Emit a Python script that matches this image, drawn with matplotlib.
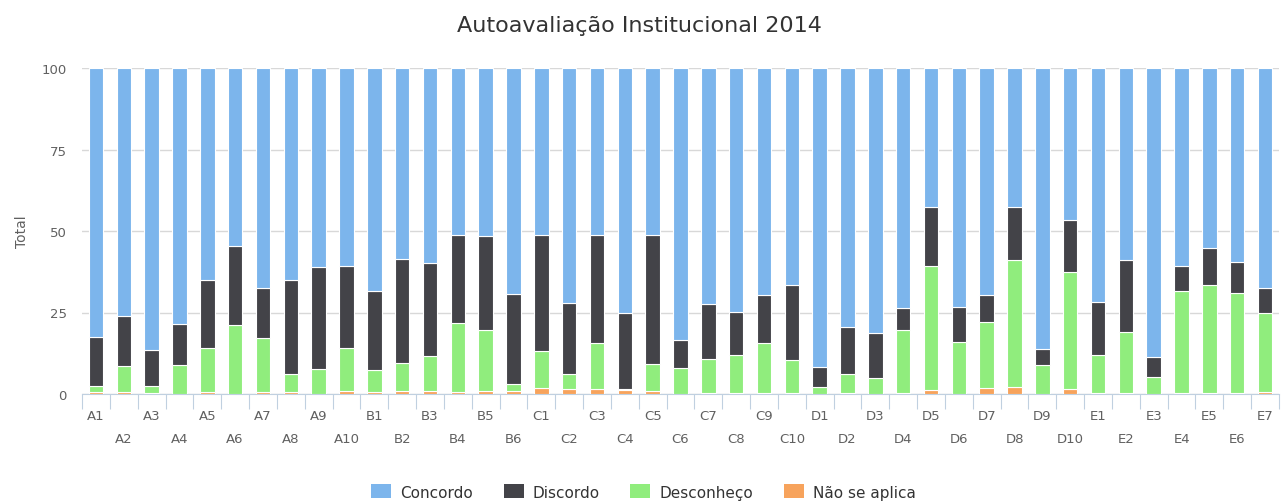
import matplotlib.pyplot as plt
from matplotlib.patches import Patch
import numpy as np

# Categories and percentage values
categories = (["A%d" % i for i in range(1, 11)] + ["B%d" % i for i in range(1, 7)]
              + ["C%d" % i for i in range(1, 11)] + ["D%d" % i for i in range(1, 11)]
              + ["E%d" % i for i in range(1, 8)])

nao_se_aplica = [0.5, 0.5, 0.2, 0.0, 0.5, 0.0, 0.5, 0.5, 0.0, 0.8,
                 0.5, 1.0, 1.0, 0.5, 0.8, 0.8,
                 1.8, 1.5, 1.5, 1.2, 0.8, 0.0, 0.4, 0.4, 0.4, 0.4,
                 0.0, 0.4, 0.0, 0.3, 1.3, 0.0, 1.7, 2.2, 0.0, 1.5,
                 0.4, 0.4, 0.0, 0.4, 0.4, 0.4, 0.5]
desconheco = [1.9, 8.0, 2.2, 8.8, 13.5, 21.1, 16.8, 5.5, 7.6, 13.2,
              6.8, 8.5, 10.6, 21.2, 18.8, 2.3,
              11.4, 4.7, 14.2, 0.2, 8.3, 7.9, 10.3, 11.6, 15.1, 9.9,
              2.3, 5.8, 5.0, 19.3, 38.1, 16.0, 20.4, 38.8, 8.9, 36.0,
              11.6, 18.5, 5.2, 31.3, 32.9, 30.5, 24.2]
discordo = [15.1, 15.4, 11.0, 12.7, 21.0, 24.2, 15.2, 29.0, 31.3, 25.4,
            24.4, 31.9, 28.6, 27.2, 29.0, 27.6,
            35.7, 21.8, 33.2, 23.3, 39.8, 8.8, 16.9, 13.2, 14.9, 23.0,
            6.0, 14.2, 13.8, 6.7, 17.9, 10.8, 8.3, 16.5, 4.9, 15.8,
            16.1, 22.1, 6.2, 7.7, 11.6, 9.6, 7.8]
concordo = [82.5, 76.1, 86.6, 78.5, 65.0, 54.7, 67.5, 65.0, 61.1, 60.6,
            68.3, 58.6, 59.8, 51.1, 51.4, 69.3,
            51.1, 72.0, 51.1, 75.3, 51.1, 83.3, 72.4, 74.8, 69.6, 66.7,
            91.7, 79.6, 81.2, 73.7, 42.7, 73.2, 69.6, 42.5, 86.2, 46.7,
            71.9, 59.0, 88.6, 60.6, 55.1, 59.5, 67.5]

series = [("Concordo", concordo, "#7cb5ec"),
          ("Discordo", discordo, "#434348"),
          ("Desconheço", desconheco, "#90ed7d"),
          ("Não se aplica", nao_se_aplica, "#f7a35c")]

fig = plt.figure(figsize=(12.87, 5.02), dpi=100)
ax = fig.add_axes([82 / 1287, 1 - 395 / 502, (1279 - 82) / 1287, 326 / 502])

x = np.arange(len(categories))
bottom = np.zeros(len(categories))
# stack from the last series at the bottom up to the first
for name, vals, color in reversed(series):
    vals = np.array(vals)
    ax.bar(x, vals, bottom=bottom, width=0.52, color=color,
           edgecolor="white", linewidth=0.8, zorder=3)
    bottom += vals

ax.set_xlim(-0.5, len(categories) - 0.5)
ax.set_ylim(0, 100)
ax.set_yticks([0, 25, 50, 75, 100])
ax.yaxis.grid(True, color="#d8d8d8", linewidth=1, zorder=0)
ax.tick_params(axis="y", length=0, labelsize=9.5, labelcolor="#606060", pad=11)
ax.set_ylabel("Total", fontsize=10, color="#606060", labelpad=9)

for s in ["top", "right", "left"]:
    ax.spines[s].set_visible(False)
ax.spines["bottom"].set_color("#c0d0e0")

# ticks between categories, labels staggered on two lines
ax.set_xticks(np.arange(len(categories) + 1) - 0.5)
ax.set_xticklabels([])
ax.tick_params(axis="x", length=11, color="#c0d0e0", direction="out")
for i, lab in enumerate(categories):
    yoff = -0.065 if i % 2 == 0 else -0.135
    ax.text(i, yoff, lab, transform=ax.get_xaxis_transform(), ha="center",
            va="center", fontsize=9.5, color="#606060")

fig.suptitle("Autoavaliação Institucional 2014", x=0.497, y=0.968,
             fontsize=16, color="#333333")

handles = [Patch(facecolor=c, label=n) for n, _, c in series]
fig.legend(handles=handles, loc="center", bbox_to_anchor=(0.5, 1 - 493 / 502),
           ncol=4, frameon=False, fontsize=11, handlelength=1.3, handleheight=1.0,
           columnspacing=2.0, handletextpad=0.6, labelcolor="#333333")

fig.savefig("out.png", dpi=100)
